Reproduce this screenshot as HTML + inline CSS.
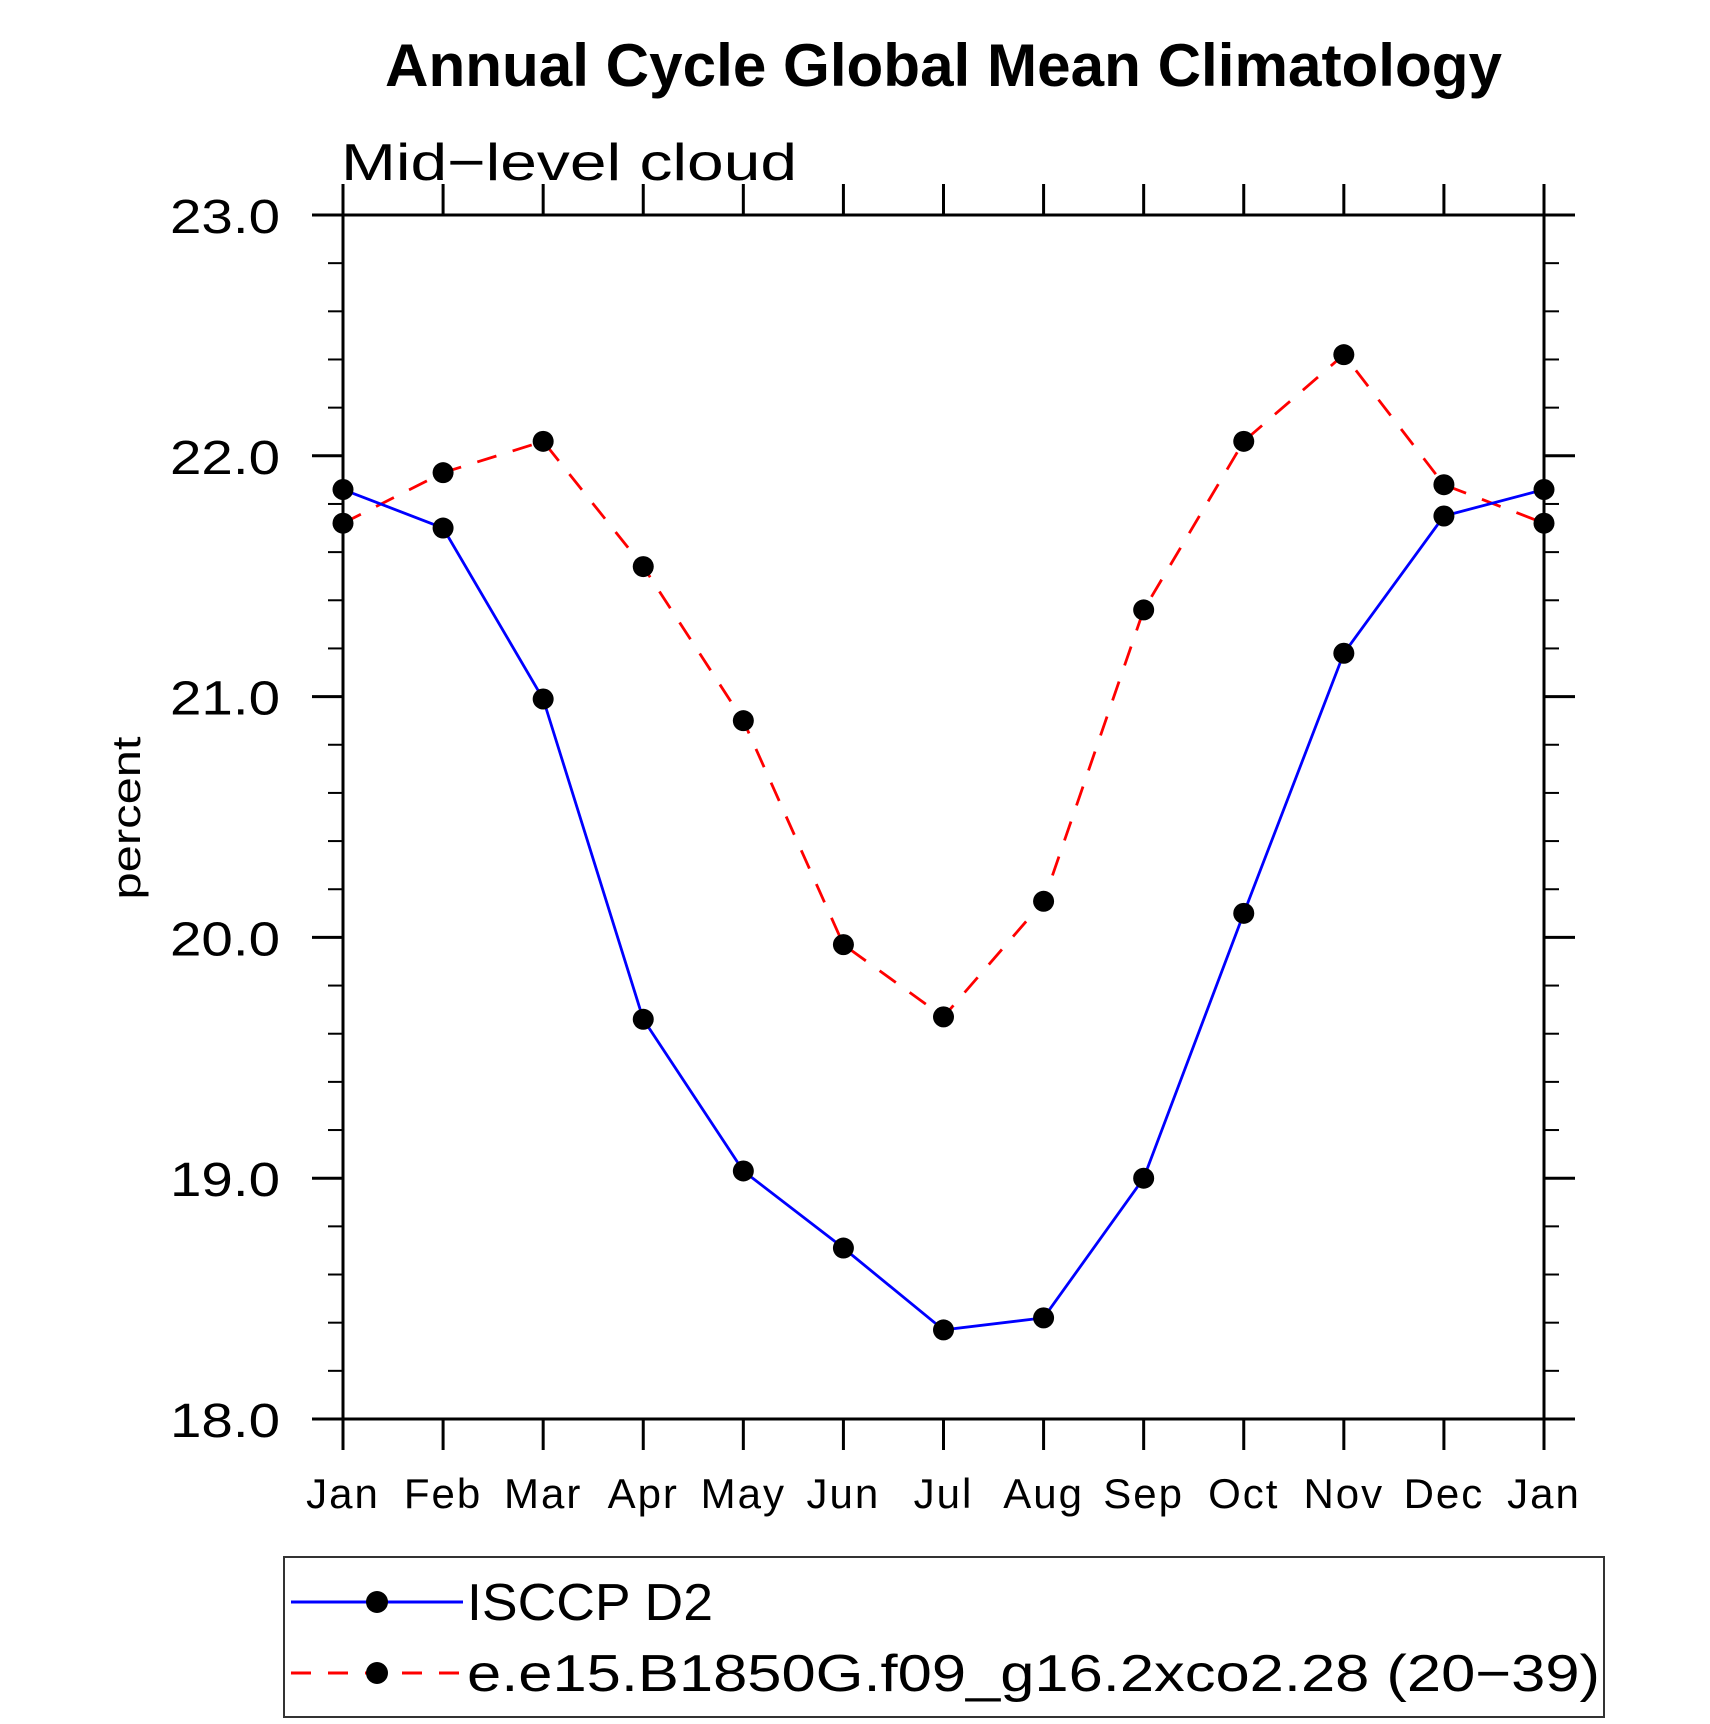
<!DOCTYPE html>
<html><head><meta charset="utf-8"><style>
html,body{margin:0;padding:0;background:#fff}
svg{display:block}
text{font-family:"Liberation Sans",sans-serif;fill:#000}
</style></head><body>
<svg id="chart" width="1710" height="1724" viewBox="0 0 1710 1724" xmlns="http://www.w3.org/2000/svg">
<text x="385" y="86" font-size="60" font-weight="bold" textLength="1117" lengthAdjust="spacingAndGlyphs">Annual Cycle Global Mean Climatology</text>
<text x="341" y="180" font-size="52" textLength="456" lengthAdjust="spacingAndGlyphs">Mid−level cloud</text>
<text transform="translate(140,818) rotate(-90)" text-anchor="middle" font-size="40" textLength="163" lengthAdjust="spacingAndGlyphs">percent</text>
<g id="axes"></g>
<g id="series"></g>
<g>
<rect x="284" y="1557" width="1320" height="160" fill="none" stroke="#333" stroke-width="2"/>
<g>
<line x1="291" y1="1602" x2="463" y2="1602" stroke="#0000ff" stroke-width="3"/>
<circle cx="377" cy="1602" r="11" fill="#000"/>
<text x="467" y="1620" font-size="52" textLength="246" lengthAdjust="spacingAndGlyphs">ISCCP D2</text>
</g>
<g>
<line x1="291" y1="1673" x2="463" y2="1673" stroke="#ff0000" stroke-width="3" stroke-dasharray="20,17"/>
<circle cx="377" cy="1673" r="11" fill="#000"/>
<text x="467" y="1691" font-size="52" textLength="1133" lengthAdjust="spacingAndGlyphs">e.e15.B1850G.f09_g16.2xco2.28 (20−39)</text>
</g>
</g>
</svg>
<script>
const months = ["Jan","Feb","Mar","Apr","May","Jun","Jul","Aug","Sep","Oct","Nov","Dec","Jan"];
const yTicks = [18,19,20,21,22,23];
const yTickLabels = ["18.0","19.0","20.0","21.0","22.0","23.0"];
const isccp = [21.86,21.70,20.99,19.66,19.03,18.71,18.37,18.42,19.00,20.10,21.18,21.75,21.86];
const model = [21.72,21.93,22.06,21.54,20.90,19.97,19.67,20.15,21.36,22.06,22.42,21.88,21.72];

const NS="http://www.w3.org/2000/svg";
const L=343,R=1544,T=215,B=1419,yMin=18,yMax=23;
const xs=i=>L+(R-L)*i/(months.length-1);
const ys=v=>B-(B-T)*(v-yMin)/(yMax-yMin);
function mk(tag,attrs,parent){const e=document.createElementNS(NS,tag);for(const k in attrs)e.setAttribute(k,attrs[k]);parent.appendChild(e);return e;}
const ax=document.getElementById('axes');
const frame=mk('rect',{x:L,y:T,width:R-L,height:B-T,fill:'none',stroke:'#000','stroke-width':3},ax);


months.forEach((m,i)=>{
  const x=xs(i);
  const t1=mk('line',{x1:x,y1:B,x2:x,y2:B+31,stroke:'#000','stroke-width':3},ax);
  
  
  const t2=mk('line',{x1:x,y1:T,x2:x,y2:T-31,stroke:'#000','stroke-width':3},ax);
  
  
  const lb=mk('text',{x:x,y:1508,'text-anchor':'middle','font-size':42,'letter-spacing':2},ax);
  lb.textContent=m;
  
  
});
for(let k=0;k<yTicks.length;k++){
  const y=ys(yTicks[k]);
  const a=mk('line',{x1:L-31,y1:y,x2:L,y2:y,stroke:'#000','stroke-width':3},ax);
  
  
  const b=mk('line',{x1:R,y1:y,x2:R+31,y2:y,stroke:'#000','stroke-width':3},ax);
  
  
  const lb=mk('text',{x:170,y:y+18,'font-size':48,textLength:110,lengthAdjust:'spacingAndGlyphs'},ax);
  lb.textContent=yTickLabels[k];
  
  
  if(k<yTicks.length-1){
    for(let j=1;j<5;j++){
      const yy=ys(yTicks[k]+j*0.2);
      const c=mk('line',{x1:L-15,y1:yy,x2:L,y2:yy,stroke:'#000','stroke-width':2},ax);
      
      
      const d=mk('line',{x1:R,y1:yy,x2:R+15,y2:yy,stroke:'#000','stroke-width':2},ax);
      
      
    }
  }
}
const sg=document.getElementById('series');
function drawSeries(vals,color,dash,name){
  const pts=vals.map((v,i)=>xs(i)+','+ys(v)).join(' ');
  const pl=mk('polyline',{points:pts,fill:'none',stroke:color,'stroke-width':2.8},sg);
  if(dash)pl.setAttribute('stroke-dasharray',dash);
  
  
  vals.forEach((v,i)=>{
    const c=mk('circle',{cx:xs(i),cy:ys(v),r:10.5,fill:'#000'},sg);
    
    
  });
}
drawSeries(model,'#ff0000','20,17','model');
drawSeries(isccp,'#0000ff',null,'isccp');
</script>
</body></html>
